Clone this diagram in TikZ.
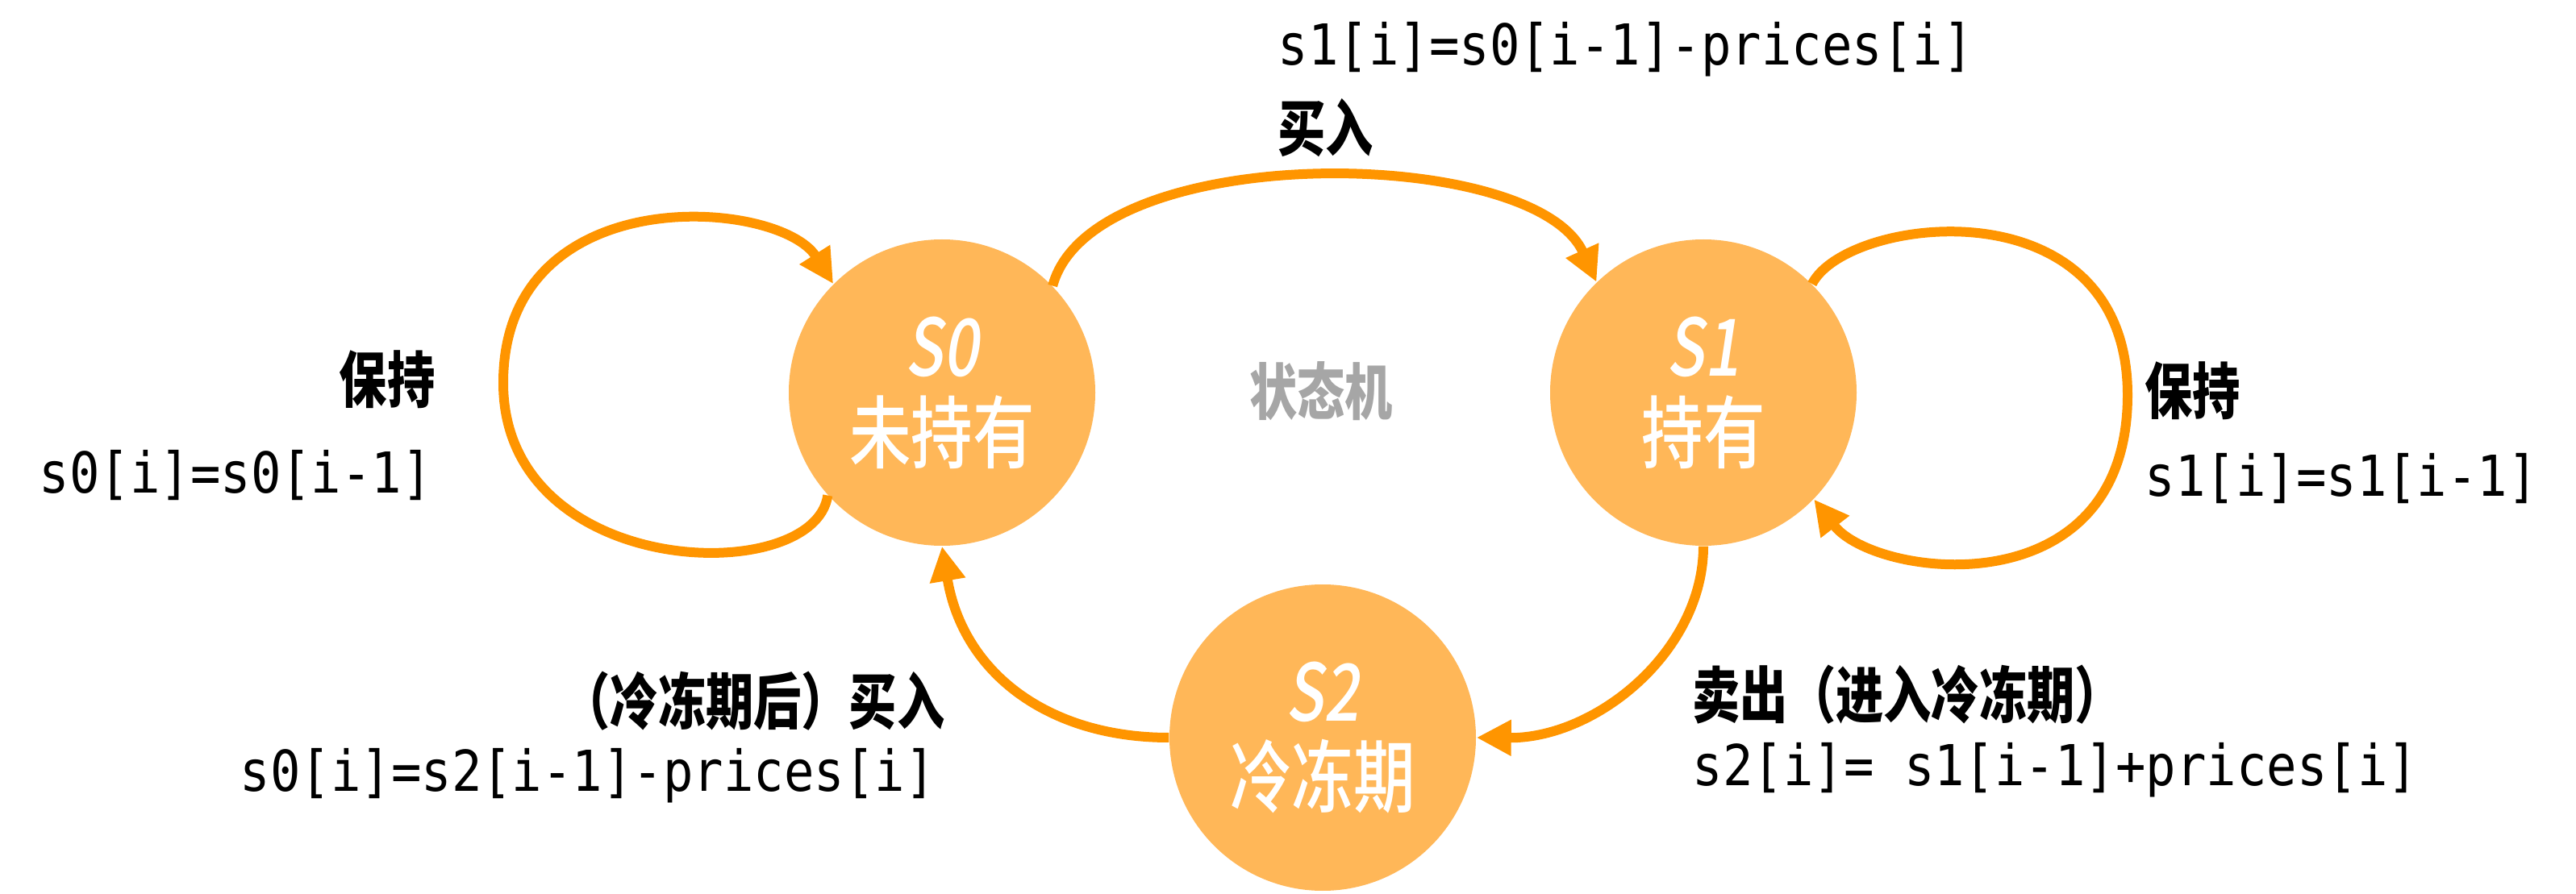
\documentclass[tikz,border=0pt]{standalone}
\usepackage{fontspec}
\usetikzlibrary{arrows.meta}
\newfontfamily\cjkfont[FakeStretch=0.78]{Noto Sans CJK SC}
\newfontfamily\statefont[FakeStretch=0.78]{Noto Sans CJK SC Medium}
\newfontfamily\stateslant[FakeStretch=0.78,FakeSlant=0.15]{Noto Sans CJK SC Medium}
\newfontfamily\codefont[FakeStretch=0.89]{DejaVu Sans Mono}
\definecolor{statefill}{HTML}{FFB758}
\definecolor{edgeorange}{HTML}{FF9500}
\definecolor{labelgrey}{HTML}{A6A6A6}

\begin{document}
\begin{tikzpicture}[
		state/.style={circle, fill=statefill, minimum size=3.8cm, inner sep=0pt, text=white, align=center, font=\statefont\fontsize{27.9}{30.4}\selectfont},
		trans/.style={draw=edgeorange, line width=0.12cm, -{Triangle[length=0.43cm,width=0.42cm]}},
		cjklabel/.style={inner sep=0pt, font=\cjkfont\bfseries\fontsize{21.6}{24}\selectfont},
		code/.style={inner sep=0pt, font=\codefont\fontsize{19.9}{22}\selectfont}]
		\useasboundingbox (0,0) rectangle (31.94,-11.09);
		\node [state] (s0) at (11.68,-4.87) {{\stateslant S0}\\未持有};
		\node [state] (s1) at (21.12,-4.87) {{\stateslant S1}\\持有};
		\node [state] (s2) at (16.40,-9.15) {{\stateslant S2}\\冷冻期};
		\node [cjklabel, text=labelgrey] (title) at (16.38,-4.85) {状态机};
		\draw [trans] (s0.222) .. controls (10.1,-7.3) and (6.24,-7.2) .. (6.24,-4.75)
			.. controls (6.24,-2.2) and (9.66,-2.46) .. (s0.135);
		\draw [trans] (s0.44) .. controls (13.54,-1.73) and (19.02,-1.79) .. (s1.134);
		\draw [trans] (s1.45) .. controls (22.9,-2.67) and (26.38,-2.25) .. (26.38,-4.90)
			.. controls (26.38,-7.57) and (23.25,-7.18) .. (s1.-44);
		\draw [trans] (s1.south) .. controls (21.12,-8.07) and (19.8,-9.16) .. (s2.east);
		\draw [trans] (s2.west) .. controls (13.0,-9.15) and (11.94,-8.35) .. (s0.south);
		\node [code, anchor=west] (eqbuy) at (15.84,-0.61) {s1[i]=s0[i-1]-prices[i]};
		\node [cjklabel, anchor=west] (buy) at (15.84,-1.59) {买入};
		\node [cjklabel, anchor=east] (keep0) at (5.40,-4.71) {保持};
		\node [code, anchor=west] (eqkeep0) at (0.48,-5.90) {s0[i]=s0[i-1]};
		\node [cjklabel, anchor=west] (keep1) at (26.59,-4.85) {保持};
		\node [code, anchor=west] (eqkeep1) at (26.59,-5.94) {s1[i]=s1[i-1]};
		\node [cjklabel, anchor=west] (sell) at (20.98,-8.62) {卖出（进入冷冻期）};
		\node [code, anchor=west] (eqsell) at (20.98,-9.55) {s2[i]= s1[i-1]+prices[i]};
		\node [cjklabel, anchor=east] (rebuy) at (11.72,-8.70) {（冷冻期后）买入};
		\node [code, anchor=west] (eqrebuy) at (2.97,-9.62) {s0[i]=s2[i-1]-prices[i]};
	\end{tikzpicture}
\end{document}
